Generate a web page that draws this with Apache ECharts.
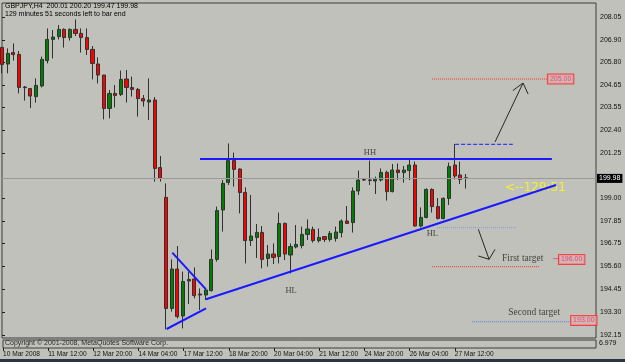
<!DOCTYPE html>
<html><head><meta charset="utf-8">
<script src="https://cdn.jsdelivr.net/npm/echarts@6/dist/echarts.min.js"></script>
<style>html,body{margin:0;padding:0;background:#c1c1bc;}#c{width:625px;height:362px;}</style>
</head><body><div id="c"></div>
<script>
// ---- DATA (GBPJPY H4, 10 Mar 2008 04:00 .. 27 Mar 2008 20:00) ----
const opens  = [206.53,205.70,206.27,206.18,204.55,204.47,204.07,204.60,205.87,206.93,207.07,207.43,207.02,207.43,207.23,207.02,206.43,205.70,205.15,203.48,204.23,204.18,
                204.95,204.52,204.43,203.97,203.80,203.90,200.52,199.03,193.48,195.45,193.10,194.85,194.95,194.20,194.15,194.37,195.93,198.40,199.78,200.87,200.45,199.28,
                196.87,197.03,197.28,195.98,196.20,196.07,197.73,196.15,196.55,196.62,197.18,197.43,196.87,197.07,196.93,196.98,197.27,197.85,197.77,199.35,199.92,199.90,
                199.85,199.90,200.28,199.32,200.40,200.27,200.37,200.65,197.60,198.03,199.43,198.57,197.98,198.98,200.65,200.15,200.01];
const closes = [205.68,206.23,206.17,204.53,204.52,204.10,204.63,205.93,206.93,207.05,207.43,207.02,207.43,207.23,207.03,206.43,205.73,205.15,203.48,204.23,204.13,204.93,
                204.53,204.43,203.97,203.85,203.90,200.48,199.98,193.48,195.45,193.07,194.82,194.93,194.12,194.15,194.40,195.93,198.37,199.73,200.87,200.43,199.27,196.87,
                197.10,197.28,195.93,196.20,196.03,197.73,196.20,196.57,196.68,197.18,197.45,196.87,197.03,196.93,197.23,197.30,197.85,197.73,199.35,199.90,199.90,199.88,
                199.93,200.28,199.32,200.40,200.27,200.40,200.65,197.60,198.03,199.43,198.57,197.98,198.98,200.57,200.10,199.93,199.98];
const lows   = [205.23,205.23,205.87,204.23,203.87,203.50,203.77,204.53,205.73,205.98,206.93,206.52,206.87,207.10,206.27,206.15,204.93,204.73,202.93,202.98,203.53,204.10,
                203.77,204.07,203.07,203.57,202.90,199.82,199.82,192.43,193.32,192.98,192.48,193.70,193.98,193.40,193.90,194.32,195.82,197.32,199.65,199.57,198.23,195.73,
                196.60,196.00,195.48,195.57,195.70,195.73,195.90,195.23,196.48,196.48,196.90,196.77,196.77,196.80,196.82,196.82,197.03,197.70,197.27,199.15,199.85,199.65,
                199.20,199.82,198.87,199.28,199.90,199.77,199.90,197.57,197.53,197.98,198.27,197.93,197.93,198.65,199.93,199.70,199.47];
const highs  = [206.55,206.48,206.73,206.35,204.60,204.50,204.98,206.07,207.48,207.40,207.65,207.48,207.48,207.93,207.48,207.48,206.60,206.03,205.15,204.40,204.65,205.37,
                205.40,205.07,204.50,204.15,204.98,204.05,201.10,199.73,195.93,196.60,195.32,195.32,195.53,194.48,194.50,196.43,198.57,199.90,201.73,201.27,200.48,199.53,
                199.15,197.70,197.60,196.65,196.73,198.27,197.77,196.73,197.65,197.57,197.93,197.57,197.48,197.10,197.35,197.57,197.93,198.60,199.53,200.37,199.98,200.87,
                200.07,200.48,200.37,200.70,200.73,200.60,200.93,200.82,198.53,199.48,199.48,199.00,199.03,200.77,201.70,200.82,200.20];
const xTickLabels = ['10 Mar 2008','11 Mar 12:00','12 Mar 20:00','14 Mar 04:00','17 Mar 12:00','18 Mar 20:00','20 Mar 04:00','21 Mar 12:00','24 Mar 20:00','26 Mar 04:00','27 Mar 12:00'];
const yTickValues = [208.05,206.90,205.80,204.65,203.55,202.40,201.25,199.00,197.85,196.75,195.60,194.45,193.30,192.15];
const currentPrice = 199.98;
const headerLine1 = 'GBPJPY,H4  200.01 200.20 199.47 199.98';
const headerLine2 = '129 minutes 51 seconds left to bar end';
const slotCount = 106;
const categories = Array.from({length: slotCount}, (_, i) => String(i));

// drawn objects, in [bar index, price]
const resistanceLine = [[35.0,200.95],[97.2,200.95]];
const supportLine    = [[36.06,193.935],[97.93,199.65]];
const wedgeUpper     = [[30.1,196.27],[36.06,194.43]];
const wedgeLower     = [[29.1,192.45],[36.06,193.48]];
const level205       = [[76.0,204.95],[96.5,204.95]];
const levelHigh      = [[80.1,201.685],[90.3,201.685]];
const levelBreak     = [[76.9,197.515],[91.0,197.515]];
const level1956      = [[76.0,195.565],[95.1,195.565]];
const link196        = [[97.4,195.965],[98.45,195.965]];
const level193       = [[83.1,192.815],[100.4,192.815]];
const arrowUp        = [[87.15,201.8],[92.1,204.75]];
const arrowUpHead    = [[90.3,204.37],[92.1,204.75],[93.0,204.2]];
const arrowDown      = [[84.2,197.435],[86.1,195.935]];
const arrowDownHead  = [[84.2,196.1],[86.1,195.935],[87.15,196.435]];
const priceTags = [{text:'205.00', x:96.5, y:204.95},{text:'196.00', x:98.45, y:195.93},{text:'193.00', x:100.6, y:192.88}];
const serifNotes = [{text:'HH', x:65.05, y:201.25, size:8.5, align:'center'},{text:'HL', x:51.1, y:194.35, size:8.5, align:'center'},
                    {text:'HL', x:76.07, y:197.2, size:8.5, align:'center'},{text:'First target', x:88.4, y:196.0, size:9.5, align:'left'},
                    {text:'Second target', x:89.5, y:193.3, size:9.5, align:'left'}];
const timerNote = {text:'<--129:51', x:88.9, y:199.5};

const candleData = opens.map((o, i) => [o, closes[i], lows[i], highs[i]]);
const SANS = 'Liberation Sans';
const SERIF = 'Liberation Serif';

function seg(data, color, width, type, z) {
  return {type:'line', xAxisIndex:1, yAxisIndex:0, data:data, symbol:'none', silent:true, animation:false, z:z||5,
          lineStyle:{color:color, width:width, type:type||'solid'}};
}

const chart = echarts.init(document.getElementById('c'), null, {renderer:'canvas'});
chart.setOption({
  animation:false,
  backgroundColor:'#c1c1bc',
  grid:[
    {left:2, top:3, width:594, height:335, show:true, borderColor:'#3c3c3c', borderWidth:1, backgroundColor:'transparent'},
    {left:2, top:340, width:594, height:8, show:true, borderColor:'#3c3c3c', borderWidth:1, backgroundColor:'transparent'}
  ],
  xAxis:[
    {type:'category', gridIndex:0, data:categories, boundaryGap:false, axisLine:{show:false}, axisTick:{show:false}, axisLabel:{show:false}, splitLine:{show:false}},
    {type:'value', gridIndex:0, min:0, max:slotCount-1, show:false},
    {type:'category', gridIndex:1, data:categories, boundaryGap:false, position:'bottom',
     axisLine:{show:false},
     axisTick:{show:true, length:3, interval:(i)=> i%8===0 && i/8 < xTickLabels.length, lineStyle:{color:'#202020'}},
     axisLabel:{show:true, interval:(i)=> i%8===0 && i/8 < xTickLabels.length, align:'left', margin:3,
                fontFamily:SANS, fontSize:6.6, color:'#111',
                formatter:(v, i)=> xTickLabels[i/8] || ''},
     splitLine:{show:false}}
  ],
  yAxis:[
    {type:'value', gridIndex:0, min:192.0, max:208.75, position:'right', scale:true,
     axisLine:{show:false}, splitLine:{show:false},
     axisTick:{show:true, length:3, customValues:yTickValues, lineStyle:{color:'#202020'}},
     axisLabel:{show:true, customValues:yTickValues, margin:4, fontFamily:SANS, fontSize:7, color:'#111', formatter:(v)=> v.toFixed(2)}},
    {type:'value', gridIndex:1, min:0, max:10, show:false}
  ],
  series:[
    {type:'candlestick', xAxisIndex:0, yAxisIndex:0, data:candleData, barWidth:3.6, z:3,
     itemStyle:{color:'#008000', color0:'#ff0000', borderColor:'#303030', borderColor0:'#303030', borderWidth:1},
     markLine:{silent:true, symbol:'none', animation:false,
       lineStyle:{color:'#9a9a9a', width:1, type:'solid'},
       label:{show:true, position:'end', distance:1, formatter:()=> currentPrice.toFixed(2), backgroundColor:'#000', color:'#fff',
              padding:[1,2,1,2], fontFamily:SANS, fontSize:7},
       data:[{yAxis:currentPrice}]}},
    seg(resistanceLine, '#1a1aff', 2),
    seg(supportLine, '#1a1aff', 2),
    seg(wedgeUpper, '#1a1aff', 2),
    seg(wedgeLower, '#1a1aff', 2),
    seg(level205, '#ff3030', 1, 'dotted'),
    seg(levelHigh, '#1a1aff', 1, 'dashed'),
    seg(levelBreak, '#7d9fcc', 1, 'dotted'),
    seg(level1956, '#ff3030', 1, 'dotted'),
    seg(link196, '#e06070', 1),
    seg(level193, '#5a7ae0', 1, 'dotted'),
    seg(arrowUp, '#262626', 1),
    seg(arrowUpHead, '#262626', 1),
    seg(arrowDown, '#262626', 1),
    seg(arrowDownHead, '#262626', 1),
    {type:'scatter', xAxisIndex:1, yAxisIndex:0, symbolSize:0, silent:true, z:6,
     data: priceTags.map(t => ({value:[t.x, t.y], label:{formatter:t.text}})),
     label:{show:true, position:'inside', align:'left', verticalAlign:'middle', fontFamily:SANS, fontSize:7,
            color:'#e8305a', backgroundColor:'#d7b2b5', borderColor:'#ff2020', borderWidth:1, padding:[1,2,1,2]}},
    {type:'scatter', xAxisIndex:1, yAxisIndex:0, symbolSize:0, silent:true, z:6,
     data: serifNotes.map(t => ({value:[t.x, t.y], label:{formatter:t.text, fontSize:t.size, align:t.align}})),
     label:{show:true, position:'inside', verticalAlign:'middle', fontFamily:SERIF, color:'#1e1e1e'}},
    {type:'scatter', xAxisIndex:1, yAxisIndex:0, symbolSize:0, silent:true, z:4,
     data:[{value:[timerNote.x, timerNote.y], label:{formatter:timerNote.text}}],
     label:{show:true, position:'inside', align:'left', verticalAlign:'middle', fontFamily:'DejaVu Sans', fontSize:12, color:'#ffff00'}}
  ],
  graphic:[
    {type:'text', left:5, top:3, silent:true, style:{text:headerLine1, fill:'#000', font:'7px "Liberation Sans"'}},
    {type:'text', left:5, top:11, silent:true, style:{text:headerLine2, fill:'#000', font:'7px "Liberation Sans"'}},
    {type:'text', left:5, top:340, silent:true, style:{text:'Copyright © 2001-2008, MetaQuotes Software Corp.', fill:'#2a2a2a', font:'7px "Liberation Sans"'}},
    {type:'text', left:599, top:340, silent:true, style:{text:'6.979', fill:'#111', font:'7px "Liberation Sans"'}},
    {type:'rect', shape:{x:0, y:359, width:625, height:3}, silent:true, style:{fill:'#2c3444'}}
  ]
});
</script></body></html>
